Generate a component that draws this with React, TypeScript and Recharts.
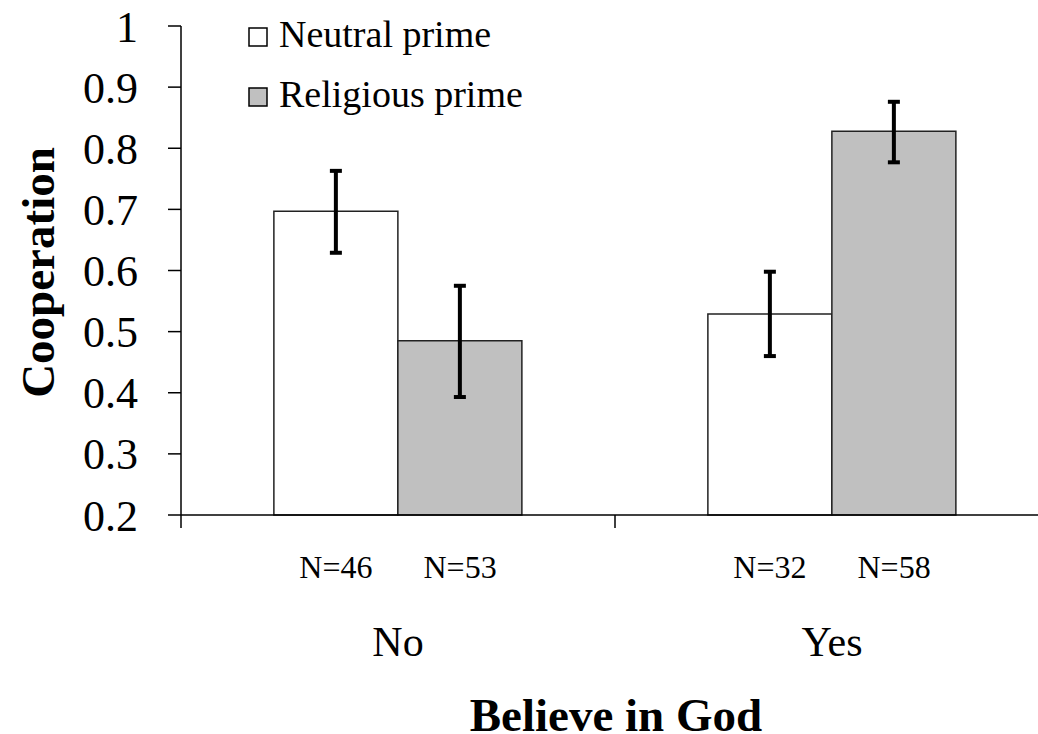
import { Bar, BarChart, ErrorBar, Label, Legend, XAxis, YAxis } from 'recharts';

const categories = ['No', 'Yes'];
const neutral = [0.697, 0.529];
const religious = [0.485, 0.828];
// error bar ends
const neutralLow = [0.629, 0.46];
const neutralHigh = [0.763, 0.598];
const religiousLow = [0.393, 0.777];
const religiousHigh = [0.575, 0.876];
const nNeutral = [46, 32];
const nReligious = [53, 58];
const yTicks = [0.2, 0.3, 0.4, 0.5, 0.6, 0.7, 0.8, 0.9, 1];

const FONT = '"Liberation Serif", "Times New Roman", serif';
const GAP = 0.214; // barCategoryGap, each side

const data = categories.map((c, i) => ({
  name: c,
  neutral: neutral[i],
  religious: religious[i],
  neutralErr: [neutral[i] - neutralLow[i], neutralHigh[i] - neutral[i]],
  religiousErr: [religious[i] - religiousLow[i], religiousHigh[i] - religious[i]],
  nN: nNeutral[i],
  nR: nReligious[i],
}));

function CategoryTick(props: any) {
  const { x, y, payload, index } = props;
  const half = payload?.offset ?? 217;
  const barOff = half * (1 - 2 * GAP) / 2;
  const d = data[index];
  return (
    <g fontFamily={FONT} fill="#000">
      <line x1={x - half} y1={y} x2={x - half} y2={y + 13} stroke="#000" strokeWidth={1.5} />
      <text x={x - barOff} y={y + 63} textAnchor="middle" fontSize={32}>
        N={d.nN}
      </text>
      <text x={x + barOff} y={y + 63} textAnchor="middle" fontSize={32}>
        N={d.nR}
      </text>
      <text x={x} y={y + 141} textAnchor="middle" fontSize={42}>
        {payload.value}
      </text>
    </g>
  );
}

function LegendBox({ payload }: any) {
  return (
    <svg width={320} height={120} style={{ display: 'block' }}>
      {(payload || []).map((p: any, i: number) => (
        <g key={p.value}>
          <rect x={1} y={28 + 60 * i} width={18} height={18} fill={p.payload?.fill ?? p.color} stroke="#000" strokeWidth={1.5} />
          <text x={31} y={47 + 60 * i} fontSize={38} fontFamily={FONT} fill="#000">
            {p.value}
          </text>
        </g>
      ))}
    </svg>
  );
}

export default function App() {
  return (
    <div style={{ position: 'absolute', left: 0, top: 0, width: 1038, height: 734, overflow: 'hidden', background: '#fff' }}>
      <BarChart
        width={1060}
        height={734}
        data={data}
        margin={{ top: 26, right: 11, bottom: 0, left: 0 }}
        barCategoryGap={`${GAP * 100}%`}
        barGap={0}
        style={{ fontFamily: FONT }}
      >
        <XAxis
          dataKey="name"
          height={219}
          axisLine={{ stroke: '#000', strokeWidth: 1.5 }}
          tickLine={false}
          tickSize={0}
          tickMargin={0}
          tick={<CategoryTick />}
          interval={0}
        >
          <Label
            content={({ viewBox }: any) => (
              <text
                x={viewBox.x + viewBox.width / 2 + 1}
                y={viewBox.y + 216}
                textAnchor="middle"
                fontSize={47}
                fontWeight="bold"
                fontFamily={FONT}
                fill="#000"
              >
                Believe in God
              </text>
            )}
          />
        </XAxis>
        <YAxis
          width={181}
          domain={[0.2, 1]}
          ticks={yTicks}
          interval={0}
          axisLine={{ stroke: '#000', strokeWidth: 1.5 }}
          tickLine={{ stroke: '#000', strokeWidth: 1.5 }}
          tickSize={13}
          tickMargin={30}
          tick={{ fill: '#000', fontSize: 44, fontFamily: FONT }}
          tickFormatter={(v: number) => String(+v.toFixed(1))}
        >
          <Label
            content={({ viewBox }: any) => {
              const cx = 54;
              const cy = viewBox.y + viewBox.height / 2 + 2;
              return (
                <text
                  x={cx}
                  y={cy}
                  transform={`rotate(-90, ${cx}, ${cy})`}
                  textAnchor="middle"
                  fontSize={47}
                  fontWeight="bold"
                  fontFamily={FONT}
                  fill="#000"
                >
                  Cooperation
                </text>
              );
            }}
          />
        </YAxis>
        <Legend
          layout="vertical"
          align="center"
          verticalAlign="middle"
          content={<LegendBox />}
          wrapperStyle={{ position: 'absolute', left: 248, top: 0, width: 320 }}
        />
        <Bar dataKey="neutral" name="Neutral prime" fill="#ffffff" stroke="#222" strokeWidth={1.5} isAnimationActive={false}>
          <ErrorBar dataKey="neutralErr" direction="y" width={6} stroke="#000" strokeWidth={4} />
        </Bar>
        <Bar dataKey="religious" name="Religious prime" fill="#c0c0c0" stroke="#222" strokeWidth={1.5} isAnimationActive={false}>
          <ErrorBar dataKey="religiousErr" direction="y" width={6} stroke="#000" strokeWidth={4} />
        </Bar>
      </BarChart>
    </div>
  );
}
